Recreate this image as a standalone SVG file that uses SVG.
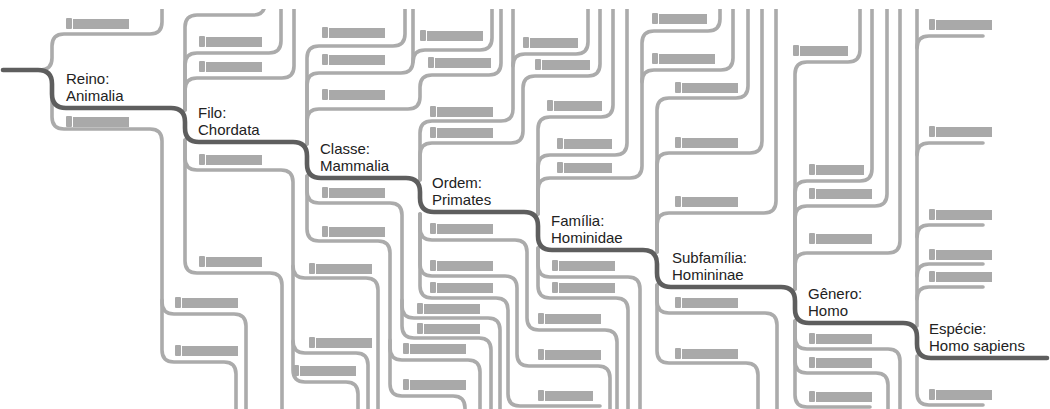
<svg xmlns="http://www.w3.org/2000/svg" xmlns:xlink="http://www.w3.org/1999/xlink" width="1050" height="409" viewBox="0 0 1050 409">
<style>
.g{fill:none;stroke:#ababab;stroke-width:3.6;stroke-linecap:round}
.main{fill:none;stroke:#5e5e5e;stroke-width:4.6;stroke-linecap:round}
.ph{fill:#a9a9a9}
.lbl{font-family:"Liberation Sans",Arial,sans-serif;font-size:15px;fill:#222}
</style>
<defs>
<clipPath id="clip"><rect x="0" y="9" width="1050" height="400"/></clipPath>
<g id="p63" class="ph"><rect width="6" height="11" rx="1"/><rect x="7" y="1" width="56" height="10"/></g>
<g id="p55" class="ph"><rect width="6" height="11" rx="1"/><rect x="7" y="1" width="48" height="10"/></g>
</defs>
<rect width="1050" height="409" fill="#fff"/>
<g id="connectors">
<g clip-path="url(#clip)" class="g">
<path d="M40 70 Q52 70 52 58 V46 Q52 34 64 34 H150 Q162 34 162 22 V0"/>
<path d="M185 110 V27 Q185 15 197 15 H253 Q265 15 265 3 V0"/>
<path d="M185 110 V65 Q185 53 197 53 H269 Q281 53 281 41 V0"/>
<path d="M185 110 V90 Q185 78 197 78 H282 Q294 78 294 66 V0"/>
<path d="M307 144 V58 Q307 46 319 46 H393 Q405 46 405 34 V0"/>
<path d="M307 144 V85 Q307 73 319 73 H401 Q413 73 413 61 V0"/>
<path d="M413 62 Q413 50 425 50 H480 Q492 50 492 38 V0"/>
<path d="M307 144 V121 Q307 109 319 109 H408 Q420 109 420 97 V87 Q420 75 432 75 H489 Q501 75 501 63 V0"/>
<path d="M420 180 V133 Q420 121 432 121 H501 Q513 121 513 109 V0"/>
<path d="M513 66 Q513 54 525 54 H576 Q588 54 588 42 V0"/>
<path d="M420 180 V155 Q420 143 432 143 H511 Q523 143 523 131 V88 Q523 76 535 76 H588 Q600 76 600 64 V0"/>
<path d="M538 214 V129 Q538 117 550 117 H601 Q613 117 613 105 V0"/>
<path d="M538 214 V167 Q538 155 550 155 H615 Q627 155 627 143 V0"/>
<path d="M538 214 V190 Q538 178 550 178 H630 Q642 178 642 166 V43 Q642 31 654 31 H708 Q720 31 720 19 V0"/>
<path d="M642 82 Q642 70 654 70 H721 Q733 70 733 58 V0"/>
<path d="M657 252 V110 Q657 98 669 98 H736 Q748 98 748 86 V0"/>
<path d="M657 252 V165 Q657 153 669 153 H750 Q762 153 762 141 V0"/>
<path d="M657 252 V225 Q657 213 669 213 H764 Q776 213 776 201 V0"/>
<path d="M795 289 V74 Q795 62 807 62 H848 Q860 62 860 50 V0"/>
<path d="M795 289 V193 Q795 181 807 181 H860 Q872 181 872 169 V0"/>
<path d="M795 289 V218 Q795 206 807 206 H875 Q887 206 887 194 V0"/>
<path d="M795 289 V265 Q795 253 807 253 H888 Q900 253 900 241 V0"/>
<path d="M917 326 V0"/>
<path d="M917 48 Q917 36 929 36 H983"/>
<path d="M917 155 Q917 143 929 143 H983"/>
<path d="M917 237 Q917 225 929 225 H983"/>
<path d="M917 276 Q917 264 929 264 H983"/>
<path d="M917 299 Q917 287 929 287 H983"/>
<path d="M52 100 V117 Q52 129 64 129 H150 Q162 129 162 141 V302 Q162 314 174 314 H234 Q246 314 246 326 V409"/>
<path d="M162 300 V350 Q162 362 174 362 H224 Q236 362 236 374 V409"/>
<path d="M185 140 V158 Q185 170 197 170 H281 Q293 170 293 182 V370 Q293 382 305 382 H346 Q358 382 358 394 V409"/>
<path d="M185 140 V261 Q185 273 197 273 H270 Q282 273 282 285 V409"/>
<path d="M293 266 Q293 278 305 278 H366 Q378 278 378 290 V409"/>
<path d="M293 341 Q293 353 305 353 H356 Q368 353 368 365 V409"/>
<path d="M307 176 V191 Q307 203 319 203 H390 Q402 203 402 215 V306 Q402 318 414 318 H488 Q500 318 500 330 V409"/>
<path d="M402 300 V326 Q402 338 414 338 H479 Q491 338 491 350 V409"/>
<path d="M307 176 V229 Q307 241 319 241 H378 Q390 241 390 253 V348 Q390 360 402 360 H468 Q480 360 480 372 V409"/>
<path d="M390 340 V384 Q390 396 402 396 H453 Q465 396 465 408 V409"/>
<path d="M420 214 V228 Q420 240 432 240 H515 Q527 240 527 252 V318 Q527 330 539 330 H605 Q617 330 617 342 V409"/>
<path d="M420 214 V264 Q420 276 432 276 H505 Q517 276 517 288 V354 Q517 366 529 366 H598 Q610 366 610 378 V409"/>
<path d="M420 214 V286 Q420 298 432 298 H496 Q508 298 508 310 V394 Q508 406 520 406 H600"/>
<path d="M538 248 V265 Q538 277 550 277 H628 Q640 277 640 289 V409"/>
<path d="M538 248 V286 Q538 298 550 298 H616 Q628 298 628 310 V409"/>
<path d="M657 285 V301 Q657 313 669 313 H765 Q777 313 777 325 V409"/>
<path d="M657 285 V351 Q657 363 669 363 H746 Q758 363 758 375 V409"/>
<path d="M795 321 V337 Q795 349 807 349 H888 Q900 349 900 361 V409"/>
<path d="M795 321 V361 Q795 373 807 373 H876 Q888 373 888 385 V409"/>
<path d="M795 321 V395 Q795 407 807 407 H870"/>
<path d="M917 356 V393 Q917 405 929 405 H983"/>
</g>
<path class="main" d="M3 70 H38 Q52 70 52 84 V94 Q52 108 66 108 H171 Q185 108 185 122 V128 Q185 142 199 142 H293 Q307 142 307 156 V164 Q307 178 321 178 H406 Q420 178 420 192 V198 Q420 212 434 212 H524 Q538 212 538 226 V236 Q538 250 552 250 H643 Q657 250 657 264 V273 Q657 287 671 287 H781 Q795 287 795 301 V309 Q795 323 809 323 H903 Q917 323 917 337 V344 Q917 358 931 358 H1047"/>
</g>
<g id="placeholders">
<use xlink:href="#p63" x="66" y="18"/><use xlink:href="#p63" x="199" y="36"/><use xlink:href="#p63" x="199" y="61"/>
<use xlink:href="#p63" x="322" y="27"/><use xlink:href="#p63" x="322" y="54"/><use xlink:href="#p63" x="322" y="89"/>
<use xlink:href="#p63" x="420" y="30"/><use xlink:href="#p63" x="428" y="57"/><use xlink:href="#p63" x="430" y="106"/><use xlink:href="#p63" x="430" y="127"/>
<use xlink:href="#p55" x="523" y="37"/><use xlink:href="#p55" x="535" y="59"/><use xlink:href="#p55" x="547" y="100"/><use xlink:href="#p55" x="557" y="138"/><use xlink:href="#p55" x="557" y="162"/>
<use xlink:href="#p55" x="652" y="13"/><use xlink:href="#p63" x="652" y="53"/><use xlink:href="#p63" x="675" y="82"/><use xlink:href="#p63" x="675" y="137"/><use xlink:href="#p63" x="675" y="196"/>
<use xlink:href="#p55" x="793" y="45"/><use xlink:href="#p55" x="809" y="164"/><use xlink:href="#p63" x="809" y="188"/><use xlink:href="#p63" x="809" y="233"/>
<use xlink:href="#p63" x="929" y="19"/><use xlink:href="#p63" x="929" y="126"/><use xlink:href="#p63" x="929" y="209"/><use xlink:href="#p63" x="929" y="249"/><use xlink:href="#p63" x="929" y="271"/>
<use xlink:href="#p63" x="66" y="116"/><use xlink:href="#p63" x="199" y="154"/><use xlink:href="#p63" x="199" y="256"/><use xlink:href="#p63" x="175" y="297"/><use xlink:href="#p63" x="175" y="345"/>
<use xlink:href="#p63" x="293" y="365"/><use xlink:href="#p63" x="309" y="263"/><use xlink:href="#p63" x="309" y="337"/><use xlink:href="#p63" x="322" y="187"/><use xlink:href="#p63" x="322" y="226"/>
<use xlink:href="#p63" x="417" y="303"/><use xlink:href="#p63" x="417" y="323"/><use xlink:href="#p63" x="403" y="343"/><use xlink:href="#p63" x="403" y="379"/>
<use xlink:href="#p63" x="430" y="223"/><use xlink:href="#p63" x="430" y="260"/><use xlink:href="#p63" x="430" y="282"/>
<use xlink:href="#p63" x="538" y="313"/><use xlink:href="#p63" x="538" y="349"/><use xlink:href="#p55" x="538" y="390"/><use xlink:href="#p63" x="552" y="260"/><use xlink:href="#p63" x="552" y="282"/>
<use xlink:href="#p63" x="675" y="297"/><use xlink:href="#p63" x="675" y="348"/><use xlink:href="#p63" x="809" y="333"/><use xlink:href="#p63" x="809" y="357"/><use xlink:href="#p63" x="809" y="391"/><use xlink:href="#p63" x="929" y="389"/>
</g>
<g id="node-reino"><text class="lbl" x="66" y="83.5">Reino:<tspan x="66" dy="17.5">Animalia</tspan></text></g>
<g id="node-filo"><text class="lbl" x="198" y="117.5">Filo:<tspan x="198" dy="17.5">Chordata</tspan></text></g>
<g id="node-classe"><text class="lbl" x="320" y="153.5">Classe:<tspan x="320" dy="17.5">Mammalia</tspan></text></g>
<g id="node-ordem"><text class="lbl" x="432" y="187.5">Ordem:<tspan x="432" dy="17.5">Primates</tspan></text></g>
<g id="node-familia"><text class="lbl" x="551" y="225.5">Família:<tspan x="551" dy="17.5">Hominidae</tspan></text></g>
<g id="node-subfamilia"><text class="lbl" x="672" y="262.5">Subfamília:<tspan x="672" dy="17.5">Homininae</tspan></text></g>
<g id="node-genero"><text class="lbl" x="808" y="298.5">Gênero:<tspan x="808" dy="17.5">Homo</tspan></text></g>
<g id="node-especie"><text class="lbl" x="929" y="333.5">Espécie:<tspan x="929" dy="17.5">Homo sapiens</tspan></text></g>
</svg>
